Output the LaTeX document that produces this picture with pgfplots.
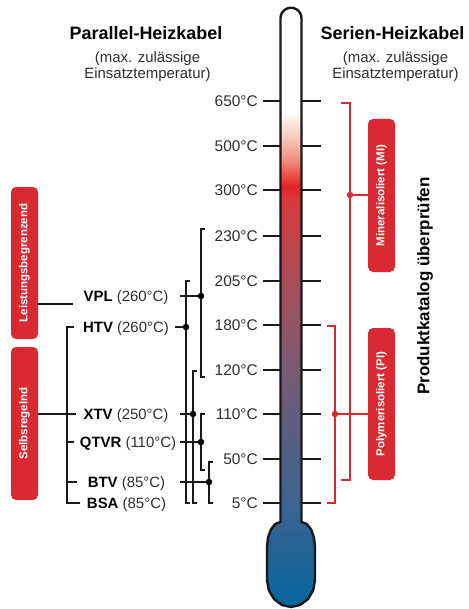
\documentclass[border=0pt]{standalone}
\usepackage{pgfplots}
\pgfplotsset{compat=1.18}
\usepackage{fontspec}
\setmainfont{Liberation Sans}

\definecolor{mred}{HTML}{D92A34}
\definecolor{txt}{HTML}{2E2E2E}
\definecolor{ta}{HTML}{04669F}
\definecolor{tb}{HTML}{2A6394}
\definecolor{tc}{HTML}{3C6592}
\definecolor{td}{HTML}{4F6088}
\definecolor{te}{HTML}{625D7E}
\definecolor{tf}{HTML}{7A5A72}
\definecolor{tg}{HTML}{925466}
\definecolor{th}{HTML}{AA4C58}
\definecolor{ti}{HTML}{C4434A}
\definecolor{tj}{HTML}{D8383A}
\definecolor{tk}{HTML}{E6232B}
\definecolor{tl}{HTML}{EC4B45}
\definecolor{tm}{HTML}{F28E80}
\definecolor{tn}{HTML}{F7C3B8}
\definecolor{to}{HTML}{FCE8E2}

% stops: shading 25bp..75bp = bottom..top of the thermometer path
\pgfdeclareverticalshading{thermo}{100bp}{color(0bp)=(ta); color(25bp)=(ta);
  color(30.59bp)=(tb); color(33.51bp)=(tc); color(37.27bp)=(td); color(41.10bp)=(te);
  color(44.78bp)=(tf); color(48.53bp)=(tg); color(52.20bp)=(th); color(55.96bp)=(ti);
  color(58.96bp)=(tj); color(60.13bp)=(tk); color(60.96bp)=(tl); color(62.30bp)=(tm);
  color(63.97bp)=(tn); color(65.47bp)=(to); color(66.30bp)=(white); color(100bp)=(white)}

\newcommand\fs[1]{\fontsize{#1}{#1}\selectfont}

\begin{document}
\begin{tikzpicture}
\begin{axis}[
  scale only axis, width=469bp, height=609bp,
  xmin=0, xmax=469, ymin=0, ymax=609, y dir=reverse,
  hide axis, clip=false,
  unbounded coords=jump,
  tick/.style={black!90, line width=2bp},
  blk/.style={black!90, line width=1.8bp},
  rd/.style={mred, line width=1.8bp},
]
% thermometer ticks
\addplot[tick] coordinates {(263,101) (281,101) (nan,nan) (301,101) (321,101)};
\addplot[tick] coordinates {(263,146) (281,146) (nan,nan) (301,146) (321,146)};
\addplot[tick] coordinates {(263,190) (281,190) (nan,nan) (301,190) (321,190)};
\addplot[tick] coordinates {(263,236) (281,236) (nan,nan) (301,236) (321,236)};
\addplot[tick] coordinates {(263,281) (281,281) (nan,nan) (301,281) (321,281)};
\addplot[tick] coordinates {(263,325) (281,325) (nan,nan) (301,325) (321,325)};
\addplot[tick] coordinates {(263,370) (281,370) (nan,nan) (301,370) (321,370)};
\addplot[tick] coordinates {(263,414) (281,414) (nan,nan) (301,414) (321,414)};
\addplot[tick] coordinates {(263,459) (281,459) (nan,nan) (301,459) (321,459)};
\addplot[tick] coordinates {(263,503) (281,503) (nan,nan) (301,503) (321,503)};

% thermometer body
\addplot[draw=black!90, line width=2.4bp, line join=round, shading=thermo] coordinates {
  (280.5,522) (280.5,18.25) (280.86,15.53) (281.91,13.0) (283.58,10.83) (285.75,9.16)
  (288.28,8.11) (291,7.75) (293.72,8.11) (296.25,9.16) (298.42,10.83) (300.09,13.0)
  (301.14,15.53) (301.5,18.25) (301.5,522) (306.67,523.9) (311.05,529.32) (313.97,537.43)
  (315,547) (315,580) (313.17,590.33) (307.97,599.09) (300.18,604.94) (291,607)
  (281.82,604.94) (274.03,599.09) (268.83,590.33) (267,580) (267,547) (268.03,537.43)
  (270.95,529.32) (275.33,523.9)} -- cycle;

% temperature labels
\node[anchor=east, inner sep=0, text=txt, font=\fs{15.5}] at (axis cs:258,101) {650°C};
\node[anchor=east, inner sep=0, text=txt, font=\fs{15.5}] at (axis cs:258,146) {500°C};
\node[anchor=east, inner sep=0, text=txt, font=\fs{15.5}] at (axis cs:258,190) {300°C};
\node[anchor=east, inner sep=0, text=txt, font=\fs{15.5}] at (axis cs:258,236) {230°C};
\node[anchor=east, inner sep=0, text=txt, font=\fs{15.5}] at (axis cs:258,281) {205°C};
\node[anchor=east, inner sep=0, text=txt, font=\fs{15.5}] at (axis cs:258,325) {180°C};
\node[anchor=east, inner sep=0, text=txt, font=\fs{15.5}] at (axis cs:258,370) {120°C};
\node[anchor=east, inner sep=0, text=txt, font=\fs{15.5}] at (axis cs:258,414) {110°C};
\node[anchor=east, inner sep=0, text=txt, font=\fs{15.5}] at (axis cs:258,459) {50°C};
\node[anchor=east, inner sep=0, text=txt, font=\fs{15.5}] at (axis cs:258,503) {5°C};

% titles
\node[anchor=base, inner sep=0, font=\fs{18}\bfseries] at (axis cs:146,39.5) {Parallel-Heizkabel};
\node[anchor=base, inner sep=0, text=txt, font=\fs{15}] at (axis cs:147.5,62.5) {(max. zulässige};
\node[anchor=base, inner sep=0, text=txt, font=\fs{15}] at (axis cs:147.5,78.5) {Einsatztemperatur)};
\node[anchor=base, inner sep=0, font=\fs{18}\bfseries] at (axis cs:392.5,39.5) {Serien-Heizkabel};
\node[anchor=base, inner sep=0, text=txt, font=\fs{15}] at (axis cs:395.5,62.5) {(max. zulässige};
\node[anchor=base, inner sep=0, text=txt, font=\fs{15}] at (axis cs:395.5,78.5) {Einsatztemperatur)};

% product labels
\node[anchor=base, inner sep=0, text=txt, font=\fs{15}] at (axis cs:126,301.5) {\textbf{\color{black}VPL} (260°C)};
\node[anchor=base, inner sep=0, text=txt, font=\fs{15}] at (axis cs:126,332.5) {\textbf{\color{black}HTV} (260°C)};
\node[anchor=base, inner sep=0, text=txt, font=\fs{15}] at (axis cs:126,419.5) {\textbf{\color{black}XTV} (250°C)};
\node[anchor=base, inner sep=0, text=txt, font=\fs{15}] at (axis cs:128,447.5) {\textbf{\color{black}QTVR} (110°C)};
\node[anchor=base, inner sep=0, text=txt, font=\fs{15}] at (axis cs:126.5,487.5) {\textbf{\color{black}BTV} (85°C)};
\node[anchor=base, inner sep=0, text=txt, font=\fs{15}] at (axis cs:126.5,508.5) {\textbf{\color{black}BSA} (85°C)};

% black brackets between products and temperatures
\addplot[blk] coordinates {(205,229) (201,229) (201,377) (205,377)};
\addplot[blk] coordinates {(190,281) (186,281) (186,503) (190,503)};
\addplot[blk] coordinates {(197,371) (193,371) (193,503) (197,503)};
\addplot[blk] coordinates {(205,414) (201,414) (201,470) (205,470)};
\addplot[blk] coordinates {(213,462) (209,462) (209,503) (213,503)};
\addplot[blk] coordinates {(180,296) (201,296)};
\addplot[blk] coordinates {(175,327) (186,327)};
\addplot[blk] coordinates {(180,414) (193,414)};
\addplot[blk] coordinates {(180,442) (201,442)};
\addplot[blk] coordinates {(180,482) (209,482)};
\addplot[only marks, mark=*, mark size=3bp, black] coordinates {(201,296) (186,327) (193,414) (201,442) (209,482)};

% left grouping
\addplot[blk] coordinates {(38,304) (73,304)};
\addplot[blk] coordinates {(38,414) (67,414)};
\addplot[blk] coordinates {(74,327) (67,327) (67,503) (80,503)};
\addplot[blk] coordinates {(67,414) (76,414) (nan,nan) (67,442) (74,442) (nan,nan) (67,482) (77,482)};

\addplot[fill=mred, draw=none, rounded corners=5bp] coordinates {(11,187) (38,187) (38,339) (11,339)} -- cycle;
\addplot[fill=mred, draw=none, rounded corners=5bp] coordinates {(11,347) (38,347) (38,500) (11,500)} -- cycle;
\node[rotate=90, inner sep=0, text=white, font=\fs{11.5}\bfseries] at (axis cs:24.5,263) {Leistungsbegrenzend};
\node[rotate=90, inner sep=0, text=white, font=\fs{11.5}\bfseries] at (axis cs:24.5,423.5) {Selbsregelnd};

% right grouping
\addplot[rd] coordinates {(341,103) (350,103) (350,480) (341,480)};
\addplot[rd] coordinates {(327,326) (335,326) (335,503) (327,503)};
\addplot[rd] coordinates {(350,195) (368,195)};
\addplot[rd] coordinates {(335,414) (368,414)};
\addplot[only marks, mark=*, mark size=3bp, mred] coordinates {(350,195) (335,414)};

\addplot[fill=mred, draw=none, rounded corners=5bp] coordinates {(368,119) (395,119) (395,272) (368,272)} -- cycle;
\addplot[fill=mred, draw=none, rounded corners=5bp] coordinates {(368,328) (395,328) (395,480) (368,480)} -- cycle;
\node[rotate=90, inner sep=0, text=white, font=\fs{11.5}\bfseries] at (axis cs:381.5,195.5) {Mineralisoliert (MI)};
\node[rotate=90, inner sep=0, text=white, font=\fs{11.5}\bfseries] at (axis cs:381.5,404) {Polymerisoliert (PI)};

\node[rotate=90, inner sep=0, font=\fs{17}\bfseries] at (axis cs:425,286) {Produktkatalog überprüfen};
\end{axis}
\pgfresetboundingbox
\path[use as bounding box] (current axis.south west) rectangle (current axis.north east);
\end{tikzpicture}
\end{document}
